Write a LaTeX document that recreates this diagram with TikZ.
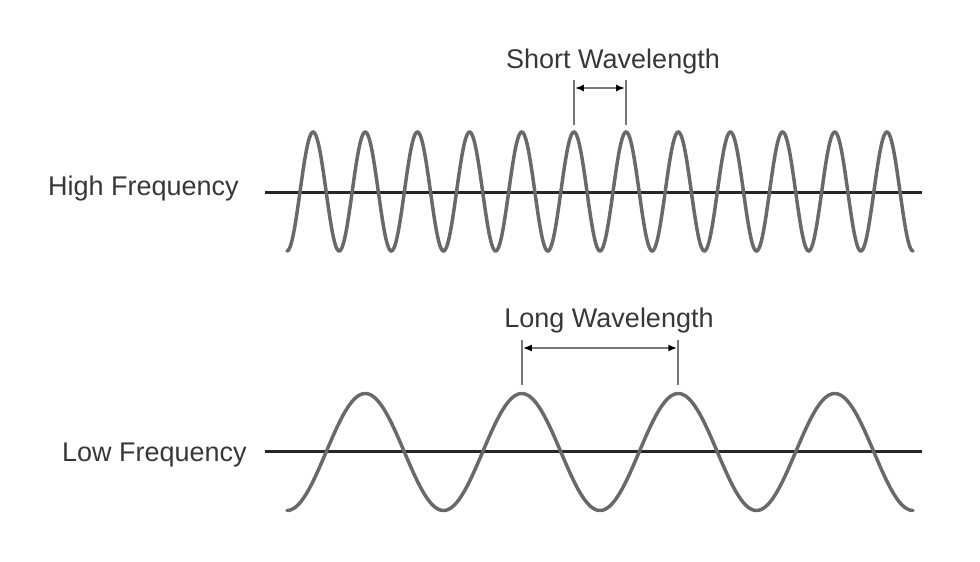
\documentclass[tikz,border=0pt]{standalone}
\usepackage{fontspec}
\setmainfont{Liberation Sans}
\usepackage{xcolor}
\usetikzlibrary{positioning,arrows.meta}
\definecolor{wellgrau}{RGB}{105,105,105}
\definecolor{achsgrau}{RGB}{38,38,38}
\definecolor{markgrau}{RGB}{120,120,120}
\definecolor{textgrau}{RGB}{55,55,55}

\begin{document}
\begin{tikzpicture}[x=1pt,y=-1pt,
	>={Latex[length=9pt,width=7pt,black]},
	welle/.style={line width=3.5pt, color=wellgrau, line cap=round},
	achse/.style={line width=3pt, color=achsgrau},
	marke/.style={line width=2.2pt, color=markgrau},
	pfeil/.style={<->, line width=2.2pt, color=markgrau},
	beschriftung/.style={font=\fontsize{27}{32}\selectfont, text=textgrau, inner sep=0pt}]
	
	\def\xstart{287}
	\def\xend{913}
	\def\kurz{52.167}
	\def\lang{156.5}
	
	\useasboundingbox (0,0) rectangle (980,562);
	
	% Achsen
	\coordinate (ho-a) at (265,192);
	\coordinate (ho-b) at (922,192);
	\coordinate (ti-a) at (265,451);
	\coordinate (ti-b) at (922,451);
	\draw[achse] (ho-a) -- (ho-b);
	\draw[achse] (ti-a) -- (ti-b);
	
	% hohe Frequenz
	\draw[welle, domain=\xstart:\xend, samples=500, variable=\x]
		plot ({\x},{191.5+59.5*cos((\x-\xstart)*(360/\kurz))});
	
	% tiefe Frequenz
	\draw[welle, domain=\xstart:\xend, samples=300, variable=\x]
		plot ({\x},{452+58.5*cos((\x-\xstart)*(360/\lang))});
	
	% Markierungen kurze Wellenlaenge
	\coordinate (k1u) at (573.9,125);
	\coordinate (k1o) at (573.9,80);
	\coordinate (k2u) at (626.1,125);
	\coordinate (k2o) at (626.1,80);
	\coordinate (k1p) at (574.9,88);
	\coordinate (k2p) at (625.1,88);
	\draw[marke] (k1u) -- (k1o);
	\draw[marke] (k2u) -- (k2o);
	\draw[pfeil] (k1p) -- (k2p);
	
	% Markierungen lange Wellenlaenge
	\coordinate (l1u) at (521.75,385);
	\coordinate (l1o) at (521.75,340);
	\coordinate (l2u) at (678.25,385);
	\coordinate (l2o) at (678.25,340);
	\coordinate (l1p) at (522.75,348);
	\coordinate (l2p) at (677.25,348);
	\draw[marke] (l1u) -- (l1o);
	\draw[marke] (l2u) -- (l2o);
	\draw[pfeil] (l1p) -- (l2p);
	
	% Beschriftungen
	\node[beschriftung, anchor=base] (kurzlabel) at (613,68) {Short Wavelength};
	\node[beschriftung, anchor=base] (langlabel) at (609,327) {Long Wavelength};
	\node[beschriftung, anchor=base west] (hochlabel) at (48,195) {High Frequency};
	\node[beschriftung, anchor=base west] (tieflabel) at (62,461) {Low Frequency};
\end{tikzpicture}
\end{document}
